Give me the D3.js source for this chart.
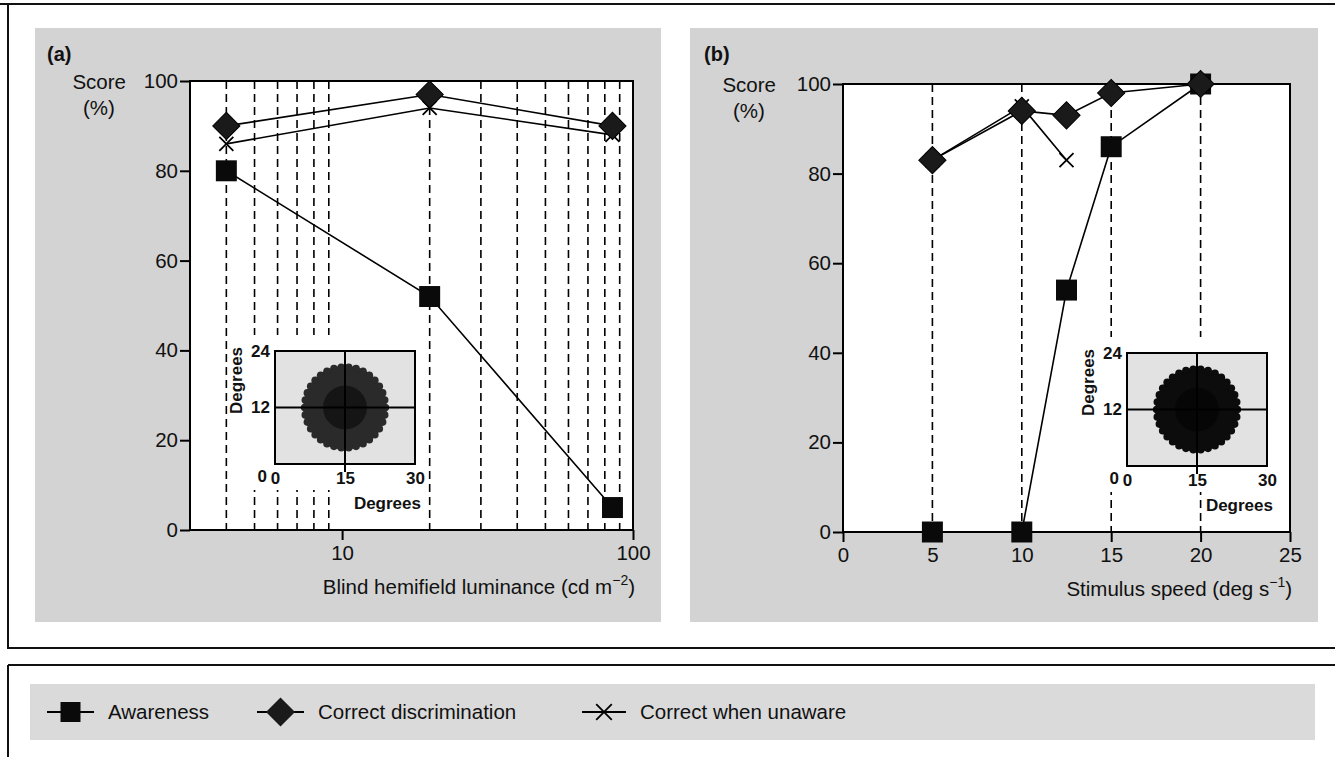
<!DOCTYPE html>
<html>
<head>
<meta charset="utf-8">
<script src="https://cdn.jsdelivr.net/npm/d3@7"></script>
<style>
  body { margin: 0; background: #fff; }
  text { font-family: "Liberation Sans", Arial, Helvetica, sans-serif; fill: #111; }
</style>
</head>
<body>
<div id="chart"></div>
<script>
// ---- data ----
var seriesNames = ["Awareness", "Correct discrimination", "Correct when unaware"];
var scoreTicks = [0, 20, 40, 60, 80, 100];

// (a) luminance panel, log axis
var lumLevels = [4, 20, 85];
var lumAwareness = [80, 52, 5];
var lumDiscrimination = [90, 97, 90];
var lumUnaware = [86, 94, 88];
var lumTicks = [10, 100];
var lumGrid = [4, 5, 6, 7, 8, 9, 20, 30, 40, 50, 60, 70, 80, 90];

// (b) speed panel
var speedLevels = [5, 10, 12.5, 15, 20];
var speedAwareness = [0, 0, 54, 86, 100];
var speedDiscrimination = [83, 94, 93, 98, 100];
var speedUnawareLevels = [5, 10, 12.5];
var speedUnaware = [83, 95, 83];
var speedTicks = [0, 5, 10, 15, 20, 25];
var speedGrid = [5, 10, 15, 20];

// stimulus insets
var insetXTicks = [0, 15, 30];
var insetYTicks = [0, 12, 24];
var stimulusCentre = [15, 12];
var stimulusRadius = 9.4;

var svg = d3.select("#chart").append("svg")
    .attr("width", 1335)
    .attr("height", 757);

// outer boxes
svg.append("path")
    .attr("d", "M0,4H1335M8,4V648H1335M8,665H1335M8,665V757")
    .attr("fill", "none")
    .attr("stroke", "#111")
    .attr("stroke-width", 2);

// grey panel backgrounds
svg.append("rect").attr("x", 35).attr("y", 28).attr("width", 626).attr("height", 594).attr("fill", "#d3d3d3");
svg.append("rect").attr("x", 690).attr("y", 28).attr("width", 628).attr("height", 594).attr("fill", "#d3d3d3");
svg.append("rect").attr("x", 30).attr("y", 684).attr("width", 1285).attr("height", 56).attr("fill", "#dadada");

function zip(xs, ys) {
  return xs.map(function(d, i) { return {x: d, y: ys[i]}; });
}

var squareSym = d3.symbol().type(d3.symbolSquare).size(440);
var diamondSym = d3.symbol().type(d3.symbolSquare).size(370);
var crossSym = d3.symbol().type(d3.symbolX).size(130);

function drawMarkers(g, data, xScale, yScale, kind) {
  var sel = g.selectAll(null).data(data).enter().append("path")
      .attr("transform", function(d) {
        var t = "translate(" + xScale(d.x) + "," + yScale(d.y) + ")";
        return kind == "diamond" ? t + " rotate(45)" : t;
      });
  if (kind == "square") sel.attr("d", squareSym).attr("fill", "#0a0a0a");
  if (kind == "diamond") sel.attr("d", diamondSym).attr("fill", "#1a1a1a").attr("stroke", "#000").attr("stroke-width", 1);
  if (kind == "cross") sel.attr("d", crossSym).attr("fill", "none").attr("stroke", "#000").attr("stroke-width", 1.8);
}

function drawLine(g, data, xScale, yScale) {
  g.append("path")
      .datum(data)
      .attr("d", d3.line().x(function(d) { return xScale(d.x); }).y(function(d) { return yScale(d.y); }))
      .attr("fill", "none")
      .attr("stroke", "#000")
      .attr("stroke-width", 1.6);
}

function drawInset(g, x0, y0, dotFill) {
  var ix = d3.scaleLinear().domain([0, 30]).range([x0, x0 + 140]);
  var iy = d3.scaleLinear().domain([0, 24]).range([y0 + 113, y0]);
  // white backing hides the dashed lines round the inset
  g.append("rect").attr("x", x0 - 43).attr("y", y0 - 16).attr("width", 193).attr("height", 155).attr("fill", "#fff");
  g.append("rect").attr("x", ix(0)).attr("y", iy(24)).attr("width", ix(30) - ix(0)).attr("height", iy(0) - iy(24))
      .attr("fill", "#e2e2e2");
  var r = ix(stimulusRadius) - ix(0);
  var cx = ix(stimulusCentre[0]), cy = iy(stimulusCentre[1]);
  g.append("circle").attr("cx", cx).attr("cy", cy).attr("r", r - 2).attr("fill", dotFill);
  d3.range(34).forEach(function(i) {
    var a = i / 34 * 2 * Math.PI;
    g.append("circle").attr("cx", cx + (r - 3.5) * Math.cos(a)).attr("cy", cy + (r - 3.5) * Math.sin(a))
        .attr("r", 3.8).attr("fill", dotFill);
  });
  g.append("circle").attr("cx", cx).attr("cy", cy).attr("r", r * 0.5).attr("fill", "#000").attr("opacity", 0.5);
  // cross hairs
  g.append("line").attr("x1", ix(0)).attr("x2", ix(30)).attr("y1", iy(12)).attr("y2", iy(12)).attr("stroke", "#000").attr("stroke-width", 2);
  g.append("line").attr("x1", ix(15)).attr("x2", ix(15)).attr("y1", iy(24)).attr("y2", iy(0) + 8).attr("stroke", "#000").attr("stroke-width", 2);
  g.append("rect").attr("x", ix(0)).attr("y", iy(24)).attr("width", ix(30) - ix(0)).attr("height", iy(0) - iy(24))
      .attr("fill", "none").attr("stroke", "#000").attr("stroke-width", 2);

  var xa = g.append("g").attr("transform", "translate(0," + iy(0) + ")")
      .call(d3.axisBottom(ix).tickValues(insetXTicks).tickSize(0).tickPadding(8));
  var ya = g.append("g").attr("transform", "translate(" + ix(0) + ",0)")
      .call(d3.axisLeft(iy).tickValues(insetYTicks).tickSize(0).tickPadding(5));
  [xa, ya].forEach(function(a) {
    a.select(".domain").remove();
    a.selectAll("text").attr("font-size", 17).attr("font-weight", "bold").attr("fill", "#111")
        .style("font-family", "'Liberation Sans', Arial, sans-serif");
  });
  ya.selectAll("text").filter(function(d) { return d === 0; }).attr("dy", "1.0em").attr("dx", "-3");
  g.append("text").attr("x", ix(30) + 6).attr("y", iy(0) + 45).attr("text-anchor", "end")
      .attr("font-size", 17).attr("font-weight", "bold").text("Degrees");
  g.append("text").attr("transform", "translate(" + (ix(0) - 33) + "," + (iy(12) - 27) + ") rotate(-90)")
      .attr("text-anchor", "middle").attr("font-size", 17).attr("font-weight", "bold").text("Degrees");
}

function styleAxis(a) {
  a.select(".domain").remove();
  a.selectAll("line").attr("stroke", "#000").attr("stroke-width", 2);
  a.selectAll("text").attr("font-size", 20.5).attr("fill", "#111")
      .style("font-family", "'Liberation Sans', Arial, sans-serif");
}

function drawPanel(p) {
  var g = svg.append("g");
  var x = p.xScale, y = p.yScale;
  var x0 = x.range()[0], x1 = x.range()[1], yb = y.range()[0], yt = y.range()[1];

  g.append("rect").attr("x", x0).attr("y", yt).attr("width", x1 - x0).attr("height", yb - yt).attr("fill", "#fff");

  g.selectAll(null).data(p.grid).enter().append("line")
      .attr("x1", function(d) { return x(d); }).attr("x2", function(d) { return x(d); })
      .attr("y1", yt).attr("y2", yb)
      .attr("stroke", "#000").attr("stroke-width", 1.6).attr("stroke-dasharray", "8,5");

  drawInset(g, p.insetX, p.insetY, p.dotFill);

  g.append("rect").attr("x", x0).attr("y", yt).attr("width", x1 - x0).attr("height", yb - yt)
      .attr("fill", "none").attr("stroke", "#000").attr("stroke-width", 2);

  styleAxis(g.append("g").attr("transform", "translate(0," + yb + ")")
      .call(d3.axisBottom(x).tickValues(p.ticks).tickFormat(d3.format("d")).tickSize(10).tickPadding(5)));
  styleAxis(g.append("g").attr("transform", "translate(" + x0 + ",0)")
      .call(d3.axisLeft(y).tickValues(scoreTicks).tickSize(10).tickPadding(2)));

  drawLine(g, p.awareness, x, y);
  drawLine(g, p.discrimination, x, y);
  drawLine(g, p.unaware, x, y);
  drawMarkers(g, p.awareness, x, y, "square");
  drawMarkers(g, p.unaware, x, y, "cross");
  drawMarkers(g, p.discrimination, x, y, "diamond");

  g.append("text").attr("x", p.labelX).attr("y", 61).attr("font-size", 20).attr("font-weight", "bold").text(p.label);
  g.append("text").attr("x", x0 - p.scoreGap).attr("y", yt + 8).attr("text-anchor", "end").attr("font-size", 20.5).text("Score");
  g.append("text").attr("x", x0 - p.scoreGap - 27).attr("y", yt + 34).attr("text-anchor", "middle").attr("font-size", 20.5).text("(%)");

  var t = g.append("text").attr("x", x1 + 2).attr("y", yb + 64).attr("text-anchor", "end").attr("font-size", 20.5);
  t.append("tspan").text(p.title);
  t.append("tspan").attr("font-size", 14).attr("dy", -9).text(p.power);
  t.append("tspan").attr("dy", 9).text(")");
}

drawPanel({
  label: "(a)", labelX: 47, scoreGap: 64,
  xScale: d3.scaleLog().domain([3, 100]).range([190, 633]),
  yScale: d3.scaleLinear().domain([0, 100]).range([530, 81]),
  ticks: lumTicks, grid: lumGrid,
  awareness: zip(lumLevels, lumAwareness),
  discrimination: zip(lumLevels, lumDiscrimination),
  unaware: zip(lumLevels, lumUnaware),
  insetX: 275, insetY: 351, dotFill: "#2a2a2a",
  title: "Blind hemifield luminance (cd m", power: "−2"
});

drawPanel({
  label: "(b)", labelX: 704, scoreGap: 67,
  xScale: d3.scaleLinear().domain([0, 25]).range([843, 1290]),
  yScale: d3.scaleLinear().domain([0, 100]).range([532, 84]),
  ticks: speedTicks, grid: speedGrid,
  awareness: zip(speedLevels, speedAwareness),
  discrimination: zip(speedLevels, speedDiscrimination),
  unaware: zip(speedUnawareLevels, speedUnaware),
  insetX: 1127, insetY: 353, dotFill: "#0c0c0c",
  title: "Stimulus speed (deg s", power: "−1"
});

// legend
var legendX = [47, 257, 582];
var lg = svg.append("g").attr("transform", "translate(0,712)");
seriesNames.forEach(function(name, i) {
  var x0 = legendX[i], w = i == 2 ? 44 : 47;
  lg.append("line").attr("x1", x0).attr("x2", x0 + w).attr("y1", 0).attr("y2", 0).attr("stroke", "#000").attr("stroke-width", 1.8);
  var kind = ["square", "diamond", "cross"][i];
  var mk = lg.append("path").attr("transform", "translate(" + (x0 + w / 2) + ",0)" + (kind == "diamond" ? " rotate(45)" : ""));
  if (kind == "square") mk.attr("d", d3.symbol().type(d3.symbolSquare).size(400)).attr("fill", "#0a0a0a");
  if (kind == "diamond") mk.attr("d", d3.symbol().type(d3.symbolSquare).size(420)).attr("fill", "#1a1a1a");
  if (kind == "cross") mk.attr("d", d3.symbol().type(d3.symbolX).size(160)).attr("fill", "none").attr("stroke", "#000").attr("stroke-width", 1.8);
  lg.append("text").attr("x", x0 + w + 14).attr("y", 7).attr("font-size", 20.5).text(name);
});
</script>
</body>
</html>
